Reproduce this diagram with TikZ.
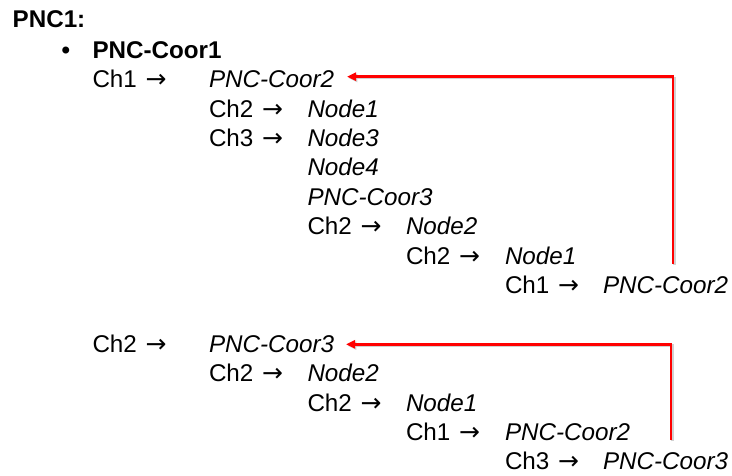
\documentclass[tikz,border=0pt]{standalone}
\usepackage{fontspec}
\setmainfont{Liberation Sans}
\newfontfamily\arrowfont{DejaVu Sans}
\newcommand{\myarr}{\hspace{2pt}{\arrowfont\fontsize{25}{28}\selectfont →}}
\usetikzlibrary{arrows.meta,calc}
\begin{document}
\begin{tikzpicture}[x=1pt,y=-1pt,
  txt/.style={anchor=base west,inner sep=0pt,outer sep=0pt,font=\fontsize{24.2}{28}\selectfont},
  it/.style={txt,font=\fontsize{24.2}{28}\selectfont\itshape},
  bf/.style={txt,font=\fontsize{24.2}{28}\selectfont\bfseries},
  loopline/.style={draw=red,line width=2.7pt,-{Triangle[length=9pt,width=8pt]}},
  loopshadow/.style={draw=black!18,line width=2.7pt,-{Triangle[length=9pt,width=8pt]}}]
\useasboundingbox (0,0) rectangle (732,476);
% columns
\def\cA{92.5}\def\cB{209}\def\cC{307.5}\def\cD{406}\def\cE{505}\def\cF{603}
% line 1-2
\node[bf] (title) at (12.7,27.7) {PNC1:};
\node[bf] (bul) at (61.5,58.3) {•};
\node[bf] (coor1) at (\cA,58.3) {PNC-Coor1};
% line 3
\node[txt] (ch1a) at (\cA,87.7) {Ch1 \myarr};
\node[it] (c2a) at (\cB,87.7) {PNC-Coor2};
% line 4
\node[txt] (ch2a) at (\cB,117.1) {Ch2 \myarr};
\node[it] (n1a) at (\cC,117.1) {Node1};
% line 5
\node[txt] (ch3a) at (\cB,146.5) {Ch3 \myarr};
\node[it] (n3a) at (\cC,146.5) {Node3};
% line 6
\node[it] (n4a) at (\cC,175.9) {Node4};
% line 7
\node[it] (c3a) at (\cC,205.3) {PNC-Coor3};
% line 8
\node[txt] (ch2b) at (\cC,234.7) {Ch2 \myarr};
\node[it] (n2a) at (\cD,234.7) {Node2};
% line 9
\node[txt] (ch2c) at (\cD,264.1) {Ch2 \myarr};
\node[it] (n1b) at (\cE,264.1) {Node1};
% line 10
\node[txt] (ch1b) at (\cE,293.5) {Ch1 \myarr};
\node[it] (c2b) at (\cF,293.5) {PNC-Coor2};
% line 11
\node[txt] (ch2d) at (\cA,352.3) {Ch2 \myarr};
\node[it] (c3b) at (\cB,352.3) {PNC-Coor3};
% line 12
\node[txt] (ch2e) at (\cB,381.7) {Ch2 \myarr};
\node[it] (n2b) at (\cC,381.7) {Node2};
% line 13
\node[txt] (ch2f) at (\cC,411.1) {Ch2 \myarr};
\node[it] (n1c) at (\cD,411.1) {Node1};
% line 14
\node[txt] (ch1c) at (\cD,440.5) {Ch1 \myarr};
\node[it] (c2c) at (\cE,440.5) {PNC-Coor2};
% line 15
\node[txt] (ch3b) at (\cE,469.9) {Ch3 \myarr};
\node[it] (c3c) at (\cF,469.9) {PNC-Coor3};
% red loop arrows
\coordinate (s1) at (673,264);
\coordinate (t1) at ($(c2a.base east)+(13,-11)$);
\coordinate (s2) at (671,440);
\coordinate (t2) at ($(c3b.base east)+(12,-8)$);
\draw[loopshadow] ($(s1)+(1.3,1.3)$) |- ($(t1)+(1.3,1.3)$);
\draw[loopshadow] ($(s2)+(1.3,1.3)$) |- ($(t2)+(1.3,1.3)$);
\draw[loopline] (s1) |- (t1);
\draw[loopline] (s2) |- (t2);
\end{tikzpicture}
\end{document}
